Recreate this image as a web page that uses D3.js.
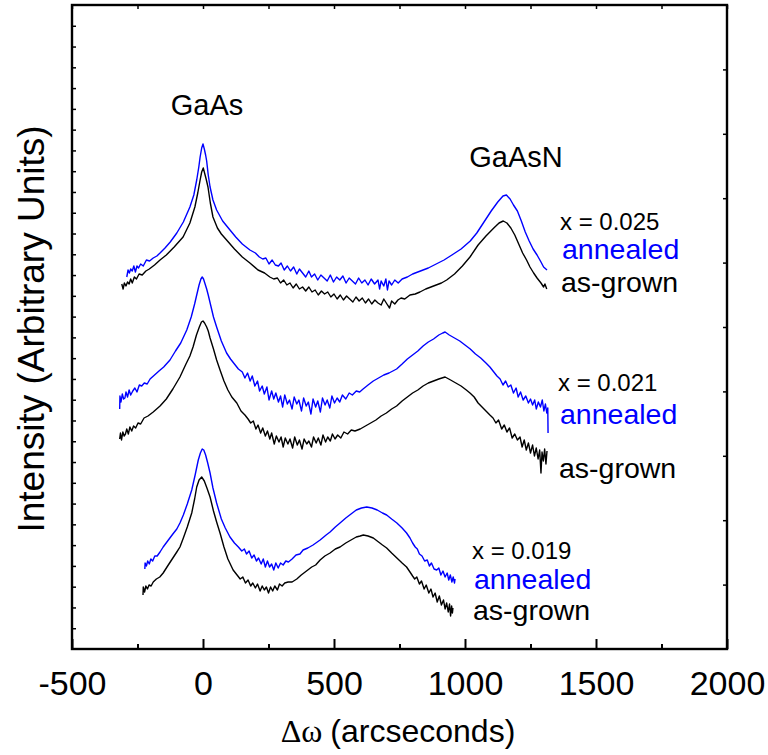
<!DOCTYPE html>
<html>
<head>
<meta charset="utf-8">
<script src="https://cdn.jsdelivr.net/npm/d3@7"></script>
<style>
  html, body { margin: 0; padding: 0; background: #fff; }
  svg { display: block; }
  text { font-family: "Liberation Sans", Arial, sans-serif; }
</style>
</head>
<body>
<svg id="chart" width="768" height="755"></svg>
<script>
// ---------------- DATA ----------------
// x: delta-omega (arcseconds), y: intensity (arbitrary units, vertically offset traces)
const xMajorTicks = [-500, 0, 500, 1000, 1500, 2000];
const xMinorTicks = [-250, 250, 750, 1250, 1750];
const yDomain = [0, 644];

const peakLabels = ["GaAs", "GaAsN"];
const sampleLabels = ["x = 0.025", "x = 0.021", "x = 0.019"];
const conditionLabels = ["annealed", "as-grown"];

const x025Annealed = [[-291,372],[-286,379],[-281,376],[-276,380],[-270,378],[-264,383],[-258,377],[-252,383],[-246,381],[-238,385],[-228,383],[-216,389],[-204,388],[-190,391],[-176,393],[-164,396],[-145,401],[-125,407],[-100,416],[-75,427],[-50,442],[-35,454],[-24,469],[-16,482],[-11,492],[-5,501],[0,505],[5,500],[10,494],[14,488],[20,474],[27,462],[38,449],[52,439],[75,428],[103,419],[125,412],[150,405],[179,399],[200,396],[215,392],[228,390],[240,391],[252,385],[264,389],[276,384],[288,383],[298,386],[310,379],[322,383],[334,378],[346,382],[358,375],[368,380],[380,376],[392,372],[404,378],[414,372],[426,375],[438,369],[450,374],[462,371],[474,368],[486,374],[498,367],[510,372],[522,369],[534,373],[546,366],[558,371],[570,368],[582,365],[594,371],[606,366],[618,369],[630,364],[642,370],[655,365],[668,369],[674,360],[680,368],[690,363],[698,370],[704,359],[710,368],[720,364],[732,369],[745,366],[760,370],[780,372],[800,375],[830,378],[860,381],[890,385],[920,389],[950,394],[985,400],[1020,408],[1045,416],[1070,426],[1100,438],[1125,447],[1145,453],[1158,454],[1172,450],[1185,444],[1200,438],[1215,428],[1230,417],[1245,408],[1260,400],[1275,394],[1290,387],[1300,382],[1313,379]];

const x025AsGrown = [[-310,365],[-305,360],[-300,366],[-294,363],[-288,367],[-282,365],[-276,370],[-270,366],[-262,372],[-254,370],[-244,375],[-232,374],[-218,378],[-205,380],[-185,384],[-164,389],[-140,394],[-110,402],[-76,412],[-50,426],[-31,442],[-20,456],[-11,469],[-5,477],[1,481],[6,476],[12,470],[19,462],[28,446],[38,432],[55,421],[70,415],[90,409],[120,400],[150,392],[179,386],[210,379],[235,376],[255,372],[270,370],[284,371],[296,366],[308,369],[320,364],[332,366],[344,361],[356,365],[368,360],[380,362],[392,358],[404,362],[416,357],[428,359],[440,354],[452,358],[464,355],[476,357],[488,352],[500,355],[512,350],[524,354],[536,349],[548,353],[560,350],[572,347],[584,352],[596,348],[608,351],[620,346],[632,350],[644,345],[656,349],[668,346],[680,344],[690,350],[702,345],[712,341],[720,348],[732,345],[744,349],[756,351],[770,350],[790,354],[810,355],[828,357],[850,360],[880,363],[910,366],[930,369],[960,375],[990,383],[1019,392],[1050,404],[1080,413],[1110,421],[1130,426],[1146,428],[1160,426],[1175,421],[1190,414],[1205,405],[1220,396],[1235,389],[1248,382],[1262,376],[1275,371],[1290,366],[1300,362],[1305,365],[1312,360]];

const x021Annealed = [[-318,240],[-317,253],[-313,247],[-308,255],[-303,250],[-298,251],[-294,257],[-288,252],[-282,259],[-276,254],[-268,258],[-260,261],[-252,257],[-243,264],[-234,263],[-224,266],[-213,265],[-202,270],[-185,274],[-168,278],[-150,282],[-126,289],[-105,298],[-85,306],[-62,319],[-45,332],[-32,345],[-24,354],[-15,364],[-8,370],[-3,372],[2,370],[8,365],[14,360],[20,354],[30,343],[40,332],[52,322],[70,308],[90,296],[105,290],[120,285],[135,280],[150,277],[160,271],[170,276],[180,268],[188,273],[198,263],[208,268],[216,258],[226,263],[234,255],[244,262],[252,249],[262,258],[270,250],[278,256],[288,247],[296,253],[304,242],[312,254],[322,245],[330,249],[340,240],[348,252],[358,245],[366,249],[376,238],[384,251],[394,243],[402,247],[412,235],[420,250],[430,242],[438,248],[448,237],[456,251],[466,244],[474,249],[484,241],[492,253],[502,246],[512,251],[522,247],[532,254],[545,250],[558,256],[570,254],[585,258],[598,257],[611,260],[630,264],[650,268],[670,271],[690,274],[710,276],[739,280],[760,285],[780,290],[800,294],[820,298],[840,303],[860,307],[880,310],[900,314],[915,316],[924,317],[940,314],[960,311],[980,308],[1000,304],[1020,300],[1040,295],[1060,291],[1080,286],[1095,282],[1110,277],[1122,273],[1134,270],[1145,264],[1155,268],[1165,262],[1175,264],[1185,256],[1195,261],[1203,252],[1212,257],[1222,249],[1232,253],[1242,246],[1250,250],[1258,244],[1266,249],[1272,240],[1280,247],[1288,242],[1295,249],[1301,238],[1307,245],[1312,236],[1316,241],[1317,216]];

const x021AsGrown = [[-318,210],[-315,216],[-311,209],[-306,217],[-301,213],[-296,215],[-291,220],[-285,215],[-279,222],[-272,218],[-265,223],[-257,221],[-248,226],[-238,225],[-225,231],[-210,233],[-190,237],[-164,243],[-140,250],[-115,260],[-88,272],[-65,285],[-50,293],[-38,302],[-25,314],[-14,322],[-6,327],[0,328],[6,326],[14,322],[20,318],[27,311],[40,300],[52,289],[65,279],[80,268],[95,259],[110,252],[129,246],[145,238],[160,234],[172,230],[182,226],[192,228],[202,220],[210,224],[220,216],[228,221],[238,213],[246,218],[255,210],[262,216],[272,205],[280,213],[290,207],[298,212],[306,202],[314,211],[324,205],[332,210],[342,201],[350,212],[360,204],[368,209],[378,200],[386,210],[396,205],[404,208],[414,202],[422,212],[432,206],[440,211],[450,204],[458,214],[468,207],[476,212],[486,208],[494,215],[504,210],[514,214],[526,211],[538,217],[552,215],[566,219],[580,218],[600,220],[620,223],[640,226],[660,229],[680,233],[700,236],[720,240],[739,243],[760,248],[780,252],[800,256],[820,259],[840,263],[860,266],[880,268],[900,270],[924,272],[945,269],[965,266],[985,263],[1005,259],[1019,256],[1035,252],[1050,246],[1065,242],[1080,238],[1095,234],[1107,231],[1118,226],[1128,229],[1140,220],[1150,224],[1160,217],[1170,221],[1180,211],[1190,215],[1200,209],[1210,212],[1218,202],[1226,209],[1234,199],[1242,206],[1250,196],[1258,204],[1265,193],[1272,201],[1279,190],[1285,199],[1290,176],[1294,197],[1299,188],[1304,200],[1309,185],[1313,198]];

const x019Annealed = [[-222,80],[-221,86],[-216,83],[-211,88],[-205,85],[-199,90],[-192,88],[-184,93],[-175,93],[-164,97],[-152,102],[-135,108],[-115,115],[-100,120],[-88,126],[-75,134],[-60,145],[-43,159],[-30,174],[-18,189],[-10,196],[-3,200],[3,199],[10,194],[18,186],[27,176],[38,161],[52,146],[70,130],[85,121],[103,112],[120,106],[135,102],[148,98],[158,100],[166,95],[176,98],[186,91],[195,94],[204,88],[212,91],[222,85],[230,90],[238,82],[246,88],[254,82],[262,85],[270,79],[278,86],[287,81],[296,86],[306,84],[316,88],[326,87],[340,90],[355,94],[370,95],[382,99],[400,101],[420,104],[447,109],[470,114],[485,117],[505,122],[523,126],[545,131],[565,135],[585,139],[605,141],[625,142],[645,141],[665,139],[685,136],[701,134],[720,130],[740,126],[760,121],[777,116],[790,111],[800,106],[810,102],[818,100],[826,95],[836,93],[846,88],[856,89],[864,83],[872,86],[882,80],[892,79],[900,81],[908,74],[916,78],[924,72],[932,76],[938,69],[944,74],[950,67],[955,72],[960,66],[962,70]];

const x019AsGrown = [[-229,54],[-228,62],[-223,57],[-218,63],[-212,60],[-206,64],[-198,63],[-190,67],[-178,70],[-165,72],[-152,76],[-135,83],[-115,91],[-100,97],[-88,102],[-75,111],[-60,122],[-43,136],[-32,150],[-24,162],[-15,169],[-5,172],[5,168],[15,161],[27,152],[40,138],[52,127],[65,116],[80,102],[95,90],[115,79],[130,74],[142,70],[152,72],[162,66],[172,69],[182,63],[190,66],[200,61],[208,65],[218,58],[226,63],[234,59],[242,62],[250,56],[258,62],[266,58],[274,63],[284,59],[292,65],[302,63],[312,66],[325,67],[340,67],[358,70],[375,74],[395,78],[415,82],[430,84],[447,89],[465,93],[485,96],[505,100],[523,102],[545,106],[565,109],[585,112],[600,113],[612,114],[630,113],[650,111],[670,107],[685,104],[701,101],[720,96],[740,91],[760,86],[777,82],[790,77],[800,73],[808,70],[816,72],[826,65],[834,68],[844,60],[852,64],[862,56],[870,60],[878,52],[886,56],[894,47],[902,53],[910,44],[918,49],[924,40],[930,46],[936,37],[941,45],[945,33],[949,43],[952,36],[954,41]];

// ---------------- CHART ----------------
const BLUE = "#0000ff", BLACK = "#000000";
const series = [
  { data: x025AsGrown, color: BLACK },
  { data: x025Annealed, color: BLUE },
  { data: x021AsGrown, color: BLACK },
  { data: x021Annealed, color: BLUE },
  { data: x019AsGrown, color: BLACK },
  { data: x019Annealed, color: BLUE }
];

const svg = d3.select("#chart");
const plot = { left: 72, right: 727, top: 5, bottom: 649 };

const x = d3.scaleLinear().domain([-500, 2000]).range([plot.left, plot.right]);
const y = d3.scaleLinear().domain(yDomain).range([plot.bottom, plot.top]);

// curves
const line = d3.line().x(d => x(d[0])).y(d => y(d[1]));
svg.append("g").selectAll("path").data(series).join("path")
  .attr("d", d => line(d.data))
  .attr("fill", "none")
  .attr("stroke", d => d.color)
  .attr("stroke-width", 1.4)
  .attr("stroke-linejoin", "round");

// bottom axis: major ticks (inward) with labels
const bottomMajor = d3.axisBottom(x).tickValues(xMajorTicks).tickSize(-10).tickPadding(22).tickFormat(d => String(d));
const gB = svg.append("g").attr("transform", `translate(0,${plot.bottom})`).call(bottomMajor);
gB.select(".domain").remove();
gB.selectAll(".tick line").attr("stroke", "#000").attr("stroke-width", 2);
gB.selectAll(".tick text").attr("font-size", 34).attr("fill", "#000")
  .attr("font-family", "'Liberation Sans', Arial, sans-serif");

const bottomMinor = d3.axisBottom(x).tickValues(xMinorTicks).tickSize(-5).tickFormat("");
const gBm = svg.append("g").attr("transform", `translate(0,${plot.bottom})`).call(bottomMinor);
gBm.select(".domain").remove();
gBm.selectAll(".tick line").attr("stroke", "#000").attr("stroke-width", 2);

// top axis ticks
const topAxis = d3.axisTop(x).tickValues(xMajorTicks.concat(xMinorTicks)).tickSize(-4).tickFormat("");
const gT = svg.append("g").attr("transform", `translate(0,${plot.top})`).call(topAxis);
gT.select(".domain").remove();
gT.selectAll(".tick line").attr("stroke", "#000").attr("stroke-width", 1.5);

// left axis ticks (31 intervals)
const leftTicks = d3.range(1, 31).map(i => yDomain[0] + i * (yDomain[1] - yDomain[0]) / 31);
const gL = svg.append("g").attr("transform", `translate(${plot.left},0)`)
  .call(d3.axisLeft(y).tickValues(leftTicks).tickSize(-4).tickFormat(""));
gL.select(".domain").remove();
gL.selectAll(".tick line").attr("stroke", "#000").attr("stroke-width", 1.5);

// right axis ticks (10 intervals)
const rightTicks = d3.range(1, 10).map(i => yDomain[0] + i * (yDomain[1] - yDomain[0]) / 10);
const gR = svg.append("g").attr("transform", `translate(${plot.right},0)`)
  .call(d3.axisRight(y).tickValues(rightTicks).tickSize(-4).tickFormat(""));
gR.select(".domain").remove();
gR.selectAll(".tick line").attr("stroke", "#000").attr("stroke-width", 1.5);

// frame
svg.append("rect")
  .attr("x", plot.left).attr("y", plot.top)
  .attr("width", plot.right - plot.left).attr("height", plot.bottom - plot.top)
  .attr("fill", "none").attr("stroke", "#000").attr("stroke-width", 2.4);

// peak labels
svg.append("text").attr("x", 207).attr("y", 115).attr("text-anchor", "middle")
  .attr("font-size", 29).text(peakLabels[0]);
svg.append("text").attr("x", 516).attr("y", 167).attr("text-anchor", "middle")
  .attr("font-size", 29).text(peakLabels[1]);

// sample labels
const labelPos = [
  { x: 560, ys: [230, 259, 292] },
  { x: 558, ys: [391, 424, 478] },
  { x: 472, ys: [559, 589, 620] }
];
labelPos.forEach((p, i) => {
  svg.append("text").attr("x", p.x).attr("y", p.ys[0]).attr("font-size", 24).attr("fill", BLACK).text(sampleLabels[i]);
  svg.append("text").attr("x", p.x + 2).attr("y", p.ys[1]).attr("font-size", 28.5).attr("fill", BLUE).text(conditionLabels[0]);
  svg.append("text").attr("x", p.x + 1).attr("y", p.ys[2]).attr("font-size", 28.5).attr("fill", BLACK).text(conditionLabels[1]);
});

// axis titles
const xt = svg.append("text").attr("x", 398).attr("y", 742).attr("text-anchor", "middle").attr("font-size", 32);
xt.append("tspan").attr("font-family", "'Liberation Serif', 'Times New Roman', serif").text("\u0394\u03c9 ");
xt.append("tspan").text("(arcseconds)");

svg.append("text").attr("transform", "translate(44,329) rotate(-90)")
  .attr("text-anchor", "middle").attr("font-size", 37).text("Intensity (Arbitrary Units)");
</script>
</body>
</html>
